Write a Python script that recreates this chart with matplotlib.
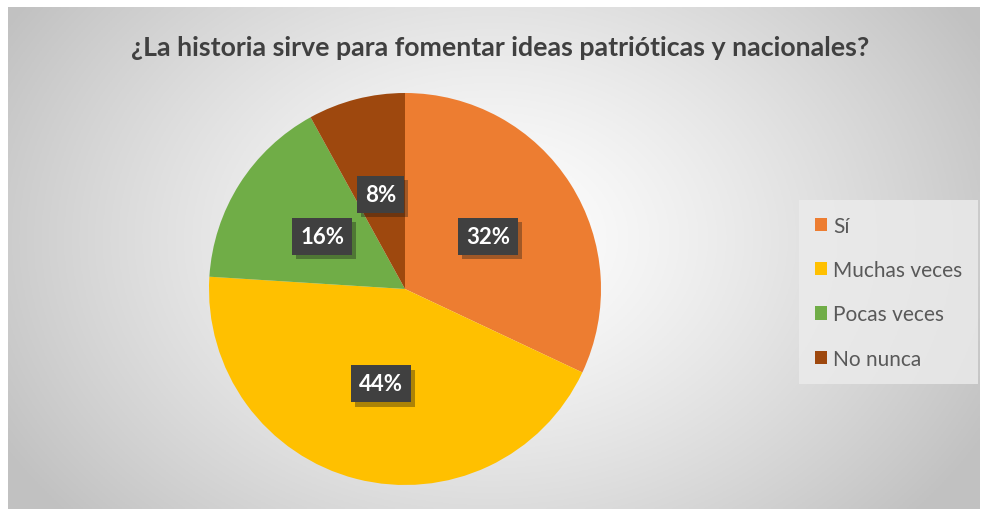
import numpy as np
import matplotlib
matplotlib.use("Agg")
import matplotlib.pyplot as plt
from matplotlib.patches import Patch
import matplotlib.patheffects as pe

# ---- data ----
categories = ["Sí", "Muchas veces", "Pocas veces", "No nunca"]
values = [32, 44, 16, 8]
colors = ["#ED7D31", "#FFC000", "#70AD47", "#9E480E"]
title = "¿La historia sirve para fomentar ideas patrióticas y nacionales?"

W, H = 984, 510
fig = plt.figure(figsize=(W / 100, H / 100), dpi=100)
fig.patch.set_facecolor("white")

# background radial gradient panel
bx0, by0, bx1, by1 = 8, 8, 980, 510  # pixel coords (top-left origin)
bg = fig.add_axes([bx0 / W, 1 - by1 / H, (bx1 - bx0) / W, (by1 - by0) / H])
gx, gy = np.meshgrid(np.linspace(bx0, bx1, 400), np.linspace(by0, by1, 220))
cx, cy = 490, 240
d = np.sqrt(((gx - cx) / 560) ** 2 + ((gy - cy) / 420) ** 2)
d = np.clip(d, 0, 1)
val = 1.0 - 0.24 * d ** 1.3
img = np.dstack([val, val, val])
bg.imshow(img, aspect="auto", extent=[0, 1, 0, 1], origin="upper")
bg.set_axis_off()

# pie axes
pcx, pcy, r = 405, 290, 196
ax = fig.add_axes([(pcx - r) / W, (H - pcy - r) / H, 2 * r / W, 2 * r / H])
wedges, texts, autotexts = ax.pie(
    values, colors=colors, startangle=90, counterclock=False,
    autopct=lambda p: f"{p:.0f}%", pctdistance=0.5, radius=1,
    wedgeprops=dict(linewidth=0),
    textprops=dict(color="white", fontsize=16, fontweight="bold", family=["Lato", "DejaVu Sans"]),
)
ax.set_xlim(-1, 1)
ax.set_ylim(-1, 1)
ax.set_aspect("equal")
for t in autotexts:
    t.set_bbox(dict(boxstyle="square,pad=0.36", facecolor="#404040", edgecolor="none"))
    t.get_bbox_patch().set_path_effects([pe.SimplePatchShadow(offset=(3, -3), alpha=0.35), pe.Normal()])

# title
fig.text(500 / W, 1 - 48 / H, title, ha="center", va="center",
         fontsize=19.3, fontweight="bold", color="#404040", family=["Lato", "DejaVu Sans"])

# legend
handles = [Patch(facecolor=c, edgecolor="none") for c in colors]
leg = fig.legend(handles, categories, loc="upper left",
                 bbox_to_anchor=(799 / W, 1 - 201 / H),
                 frameon=True, fancybox=False,
                 handlelength=0.6, handleheight=0.6, handletextpad=0.3,
                 labelspacing=1.17, borderpad=0.75, borderaxespad=0,
                 labelcolor="#595959", prop=dict(family=["Lato", "DejaVu Sans"], size=15))
frame = leg.get_frame()
frame.set_facecolor("#ececec")
frame.set_alpha(0.8)
frame.set_edgecolor("none")

fig.savefig("out.png", dpi=100, facecolor=fig.get_facecolor())
